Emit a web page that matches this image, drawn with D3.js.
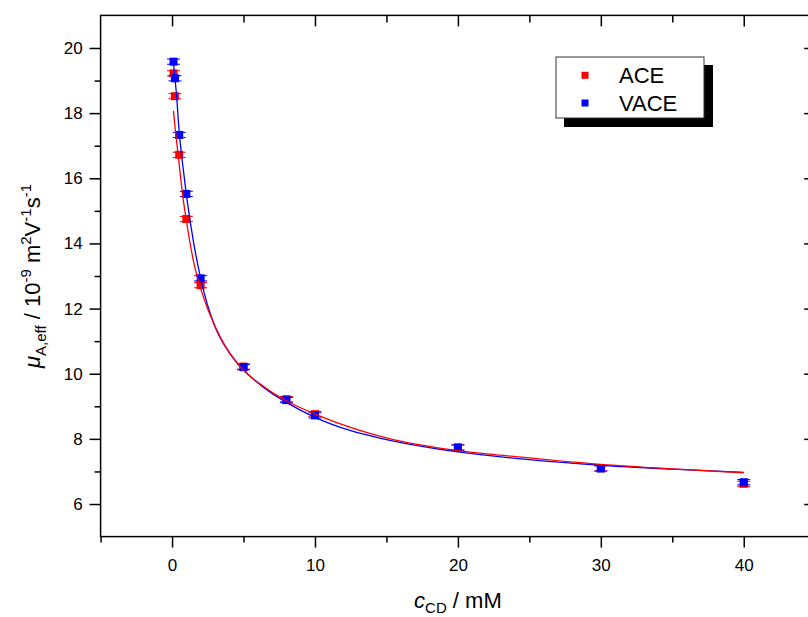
<!DOCTYPE html>
<html><head><meta charset="utf-8">
<script src="https://cdn.jsdelivr.net/npm/d3@7"></script>
<style>
body{margin:0;background:#fff}
svg{display:block}
text{font-family:Arial,"Liberation Sans",sans-serif;fill:#000}
</style>
</head><body>
<svg id="chart" width="808" height="617"></svg>
<script>
// ---- data ----
const seriesNames = ["ACE", "VACE"];
const seriesColors = ["#ff0000", "#0000ff"];
const concentrations = [0.1, 0.2, 0.5, 1, 2, 5, 8, 10, 20, 30, 40];
const aceMobility  = [19.22, 18.52, 16.72, 14.75, 12.72, 10.22, 9.22, 8.76, 7.74, 7.10, 6.62];
const vaceMobility = [19.58, 19.07, 17.33, 15.52, 12.93, 10.20, 9.19, 8.72, 7.73, 7.09, 6.67];
const aceError  = [0.08, 0.08, 0.08, 0.08, 0.08, 0.08, 0.08, 0.08, 0.08, 0.08, 0.08];
const vaceError = [0.08, 0.08, 0.08, 0.08, 0.08, 0.08, 0.08, 0.08, 0.08, 0.08, 0.08];
const aceFitC   = [0.1, 0.2, 0.44, 0.75, 1.03, 1.5, 2, 2.5, 3.4, 4.76, 6.5, 8, 10.35, 15, 20, 23, 30, 35, 40];
const aceFitMu  = [18.07, 17.6, 16.67, 15.45, 14.62, 13.45, 12.62, 11.98, 11.1, 10.22, 9.58, 9.17, 8.7, 8.03, 7.64, 7.5, 7.22, 7.08, 6.96];
const vaceFitC  = [0.1, 0.2, 0.3, 0.5, 0.75, 1, 1.5, 2, 3, 4, 5, 6.5, 8, 10, 12.5, 15, 20, 25, 30, 35, 40];
const vaceFitMu = [19.55, 19.08, 18.62, 17.42, 16.4, 15.5, 14.05, 12.93, 11.45, 10.65, 10.12, 9.55, 9.12, 8.66, 8.25, 7.98, 7.6, 7.36, 7.19, 7.07, 6.97];
const xMajorTicks = [0, 10, 20, 30, 40];
const xMinorTicks = [-5, 5, 15, 25, 35];
const yMajorTicks = [6, 8, 10, 12, 14, 16, 18, 20];
const yMinorTicks = [7, 9, 11, 13, 15, 17, 19];

const svg = d3.select("#chart");
const x = d3.scaleLinear().domain([-5, 45]).range([100.6, 815.2]);
const y = d3.scaleLinear().domain([5, 21]).range([536.6, 15.4]);

const axisColor = "#000";
// frame
svg.append("rect")
  .attr("x", x(-5)).attr("y", y(21))
  .attr("width", x(45) - x(-5)).attr("height", y(5) - y(21))
  .attr("fill", "none").attr("stroke", axisColor).attr("stroke-width", 1.5);

function styleAxis(g, fontSize) {
  g.select(".domain").remove();
  g.selectAll(".tick line").attr("stroke", axisColor).attr("stroke-width", 1.5);
  g.selectAll(".tick text").attr("font-size", fontSize).attr("font-family", "Arial, 'Liberation Sans', sans-serif").attr("fill", "#000");
}

// bottom
svg.append("g").attr("transform", `translate(0,${y(5)})`)
  .call(d3.axisBottom(x).tickValues(xMajorTicks).tickSize(11).tickPadding(11).tickFormat(d3.format("d")))
  .call(g => styleAxis(g, 17));
svg.append("g").attr("transform", `translate(0,${y(5)})`)
  .call(d3.axisBottom(x).tickValues(xMinorTicks).tickSize(6).tickFormat(""))
  .call(g => styleAxis(g, 17));
// top (inward)
svg.append("g").attr("transform", `translate(0,${y(21)})`)
  .call(d3.axisTop(x).tickValues(xMajorTicks).tickSize(-11).tickFormat(""))
  .call(g => styleAxis(g, 17));
svg.append("g").attr("transform", `translate(0,${y(21)})`)
  .call(d3.axisTop(x).tickValues(xMinorTicks.filter(v => v > -5)).tickSize(-7).tickFormat(""))
  .call(g => styleAxis(g, 17));
// left
svg.append("g").attr("transform", `translate(${x(-5)},0)`)
  .call(d3.axisLeft(y).tickValues(yMajorTicks).tickSize(11).tickPadding(7).tickFormat(d3.format("d")))
  .call(g => styleAxis(g, 17));
svg.append("g").attr("transform", `translate(${x(-5)},0)`)
  .call(d3.axisLeft(y).tickValues(yMinorTicks).tickSize(6).tickFormat(""))
  .call(g => styleAxis(g, 17));
// right (inward)
svg.append("g").attr("transform", `translate(${x(45)},0)`)
  .call(d3.axisRight(y).tickValues(yMajorTicks).tickSize(-11).tickFormat(""))
  .call(g => styleAxis(g, 17));
svg.append("g").attr("transform", `translate(${x(45)},0)`)
  .call(d3.axisRight(y).tickValues(yMinorTicks).tickSize(-7).tickFormat(""))
  .call(g => styleAxis(g, 17));

// axis titles
const xt = svg.append("text").attr("x", (x(-5) + x(45)) / 2).attr("y", 608)
  .attr("text-anchor", "middle").attr("font-size", 22);
xt.append("tspan").attr("font-style", "italic").text("c");
xt.append("tspan").attr("font-size", 15).attr("dy", 5).text("CD");
xt.append("tspan").attr("dy", -5).text(" / mM");

const yt = svg.append("text")
  .attr("transform", `translate(40,${(y(5) + y(21)) / 2}) rotate(-90)`)
  .attr("text-anchor", "middle").attr("font-size", 22);
yt.append("tspan").attr("font-style", "italic").text("μ");
yt.append("tspan").attr("font-size", 15).attr("dy", 6).text("A,eff");
yt.append("tspan").attr("dy", -6).text(" / 10");
yt.append("tspan").attr("font-size", 15).attr("dy", -9).text("-9");
yt.append("tspan").attr("dy", 9).text(" m");
yt.append("tspan").attr("font-size", 15).attr("dy", -9).text("2");
yt.append("tspan").attr("dy", 9).text("V");
yt.append("tspan").attr("font-size", 15).attr("dy", -9).text("-1");
yt.append("tspan").attr("dy", 9).text("s");
yt.append("tspan").attr("font-size", 15).attr("dy", -9).text("-1");

// points with error bars
const series = [
  {name: seriesNames[0], color: seriesColors[0], mu: aceMobility, err: aceError, fc: aceFitC, fm: aceFitMu},
  {name: seriesNames[1], color: seriesColors[1], mu: vaceMobility, err: vaceError, fc: vaceFitC, fm: vaceFitMu}
];
const sq = 8, capHalf = 6.5;
series.forEach(s => {
  const pts = concentrations.map((c, i) => ({c, m: s.mu[i], e: s.err[i]}));
  const g = svg.append("g");
  g.selectAll("line.eb").data(pts).join("line")
    .attr("x1", d => x(d.c)).attr("x2", d => x(d.c))
    .attr("y1", d => y(d.m - d.e)).attr("y2", d => y(d.m + d.e))
    .attr("stroke", s.color).attr("stroke-width", 1);
  g.selectAll("line.capT").data(pts).join("line")
    .attr("x1", d => x(d.c) - capHalf).attr("x2", d => x(d.c) + capHalf)
    .attr("y1", d => y(d.m + d.e)).attr("y2", d => y(d.m + d.e))
    .attr("stroke", s.color).attr("stroke-width", 1);
  g.selectAll("line.capB").data(pts).join("line")
    .attr("x1", d => x(d.c) - capHalf).attr("x2", d => x(d.c) + capHalf)
    .attr("y1", d => y(d.m - d.e)).attr("y2", d => y(d.m - d.e))
    .attr("stroke", s.color).attr("stroke-width", 1);
  g.selectAll("rect").data(pts).join("rect")
    .attr("x", d => x(d.c) - sq / 2).attr("y", d => y(d.m) - sq / 2)
    .attr("width", sq).attr("height", sq).attr("fill", s.color);
});

// fit curves (blue first, red on top)
const line = d3.line().x(d => x(d[0])).y(d => y(d[1])).curve(d3.curveMonotoneX);
[series[1], series[0]].forEach(s => {
  svg.append("path").datum(s.fc.map((c, i) => [c, s.fm[i]]))
    .attr("d", line).attr("fill", "none").attr("stroke", s.color).attr("stroke-width", 1.3);
});

// legend
const lg = svg.append("g");
lg.append("rect").attr("x", 564).attr("y", 65).attr("width", 149).attr("height", 62).attr("fill", "#000");
lg.append("rect").attr("x", 556).attr("y", 57).attr("width", 148).attr("height", 61)
  .attr("fill", "#fff").attr("stroke", "#333").attr("stroke-width", 1);
series.forEach((s, i) => {
  const cy = 75.3 + i * 27.7;
  lg.append("rect").attr("x", 581.5).attr("y", cy - 3.5).attr("width", 7).attr("height", 7).attr("fill", s.color);
  lg.append("text").attr("x", 619).attr("y", cy + 8).attr("font-size", 22).text(s.name);
});
</script>
</body></html>
